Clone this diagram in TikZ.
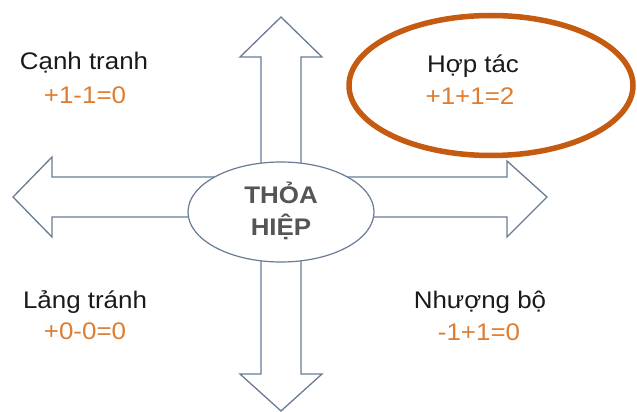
\documentclass[tikz,border=0pt]{standalone}
\usepackage{fontspec}
\setmainfont[FakeStretch=1.08]{Liberation Sans}
\begin{document}
\definecolor{lineblue}{RGB}{104,124,150}
\definecolor{valorange}{RGB}{222,125,49}
\definecolor{ringorange}{RGB}{197,90,17}
\definecolor{inkblack}{RGB}{26,26,26}
\definecolor{centergray}{RGB}{85,85,85}
\begin{tikzpicture}[x=1pt,y=-1pt,
  label/.style={anchor=base,inner sep=0pt,text=inkblack,font=\fontsize{24}{28}\selectfont},
  value/.style={anchor=base,inner sep=0pt,text=valorange,font=\fontsize{24}{28}\selectfont},
  core/.style={anchor=base,inner sep=0pt,text=centergray,font=\fontsize{24}{28}\selectfont\bfseries},
  crossline/.style={draw=lineblue,line width=1.3pt,fill=white,line join=miter}]
\useasboundingbox (0,0) rectangle (637,412);
% four-way arrow
\draw[crossline] (281,17) -- (322,57) -- (301,57) -- (301,177) -- (507,177) -- (507,161)
  -- (547,197) -- (507,237) -- (507,217) -- (301,217) -- (301,374) -- (322,374)
  -- (281,411) -- (240,374) -- (261,374) -- (261,217) -- (52,217) -- (52,237)
  -- (13,197) -- (52,157) -- (52,177) -- (261,177) -- (261,57) -- (240,57) -- cycle;
% centre ellipse
\draw[draw=lineblue,line width=1.2pt,fill=white] (281,212) ellipse [x radius=93,y radius=50];
\node[core] (thoa) at (281,203) {THỎA};
\node[core] (hiep) at (281,235) {HIỆP};
% highlighted quadrant
\draw[draw=ringorange,line width=5.5pt] (491,85.5) ellipse [x radius=142,y radius=70];
% quadrant labels
\node[label] (canh) at (84,70) {Cạnh tranh};
\node[value] (canhv) at (85,103) {+1-1=0};
\node[label] (hop) at (473,73) {Hợp tác};
\node[value] (hopv) at (470,104) {+1+1=2};
\node[label] (lang) at (85,308) {Lảng tránh};
\node[value] (langv) at (85,339) {+0-0=0};
\node[label] (nhuong) at (480,308) {Nhượng bộ};
\node[value] (nhuongv) at (479,340) {-1+1=0};
\end{tikzpicture}
\end{document}
